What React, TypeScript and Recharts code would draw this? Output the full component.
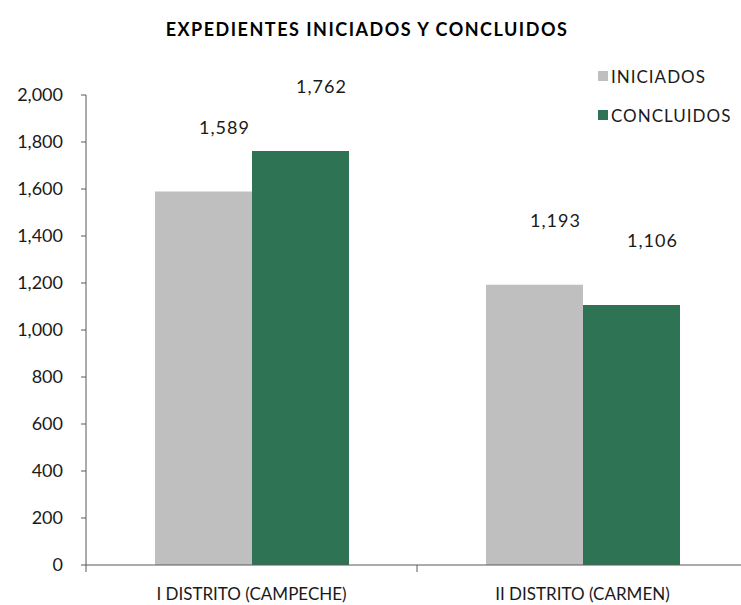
import React from 'react';
import { BarChart, Bar, XAxis, YAxis, LabelList } from 'recharts';

const categories = ['I DISTRITO (CAMPECHE)', 'II DISTRITO (CARMEN)'];
const iniciados = [1589, 1193];
const concluidos = [1762, 1106];
const yTicks = [0, 200, 400, 600, 800, 1000, 1200, 1400, 1600, 1800, 2000];

const series = [
  { key: 'iniciados', name: 'INICIADOS', color: '#BFBFBF' },
  { key: 'concluidos', name: 'CONCLUIDOS', color: '#2E7353' },
];

const data = categories.map((name, i) => ({
  name,
  iniciados: iniciados[i],
  concluidos: concluidos[i],
}));

const FONT = 'Lato, "DejaVu Sans", sans-serif';
const fmt = (v: number) => v.toLocaleString('en-US');

// Excel put the value labels well above the bars, a bit to the right
const ValueLabel = (props: any) => {
  const { x, y, width, value } = props;
  return (
    <text
      x={x + width / 2 + 21}
      y={y - 65}
      textAnchor="middle"
      dominantBaseline="central"
      fontSize={18}
      fontFamily={FONT}
      letterSpacing={1}
      fill="#1a1a1a"
    >
      {fmt(value)}
    </text>
  );
};

const CategoryTick = (props: any) => {
  const { x, y, payload } = props;
  const half = payload.offset || 0;
  return (
    <g>
      <line x1={x - half} x2={x - half} y1={y - 8} y2={y - 1} stroke="#595959" />
      <text
        x={x}
        y={y + 20}
        textAnchor="middle"
        dominantBaseline="central"
        fontSize={17}
        fontFamily={FONT}
        fill="#1a1a1a"
      >
        {payload.value}
      </text>
    </g>
  );
};

export default function App() {
  return (
    <div style={{ position: 'absolute', left: 0, top: 0, width: 741, height: 605, overflow: 'hidden', background: '#fff' }}>
      <div
        style={{
          position: 'absolute',
          left: 0,
          width: 734,
          top: 18,
          textAlign: 'center',
          fontFamily: FONT,
          fontWeight: 'bold',
          fontSize: 18,
          letterSpacing: 1.5,
          color: '#000',
        }}
      >
        EXPEDIENTES INICIADOS Y CONCLUIDOS
      </div>
      <div style={{ position: 'absolute', left: 598, top: 64, fontFamily: FONT, fontSize: 17, letterSpacing: 1, color: '#1a1a1a' }}>
        {series.map((s) => (
          <div key={s.key} style={{ display: 'flex', alignItems: 'center', height: 24, marginBottom: 15 }}>
            <span style={{ display: 'inline-block', width: 10, height: 10, background: s.color, marginRight: 3 }} />
            {s.name}
          </div>
        ))}
      </div>
      <BarChart
        width={760}
        height={605}
        data={data}
        margin={{ top: 95, right: 12, bottom: 0, left: 0 }}
        barCategoryGap={69}
        barGap={0}
      >
        <XAxis
          dataKey="name"
          height={40}
          tickLine={false}
          axisLine={{ stroke: '#595959' }}
          tick={<CategoryTick />}
          interval={0}
        />
        <YAxis
          width={86}
          domain={[0, 2000]}
          ticks={yTicks}
          tickFormatter={fmt}
          tickSize={5}
          tickMargin={18}
          axisLine={{ stroke: '#595959' }}
          tickLine={{ stroke: '#595959' }}
          tick={{ fontSize: 18, fontFamily: FONT, fill: '#1a1a1a' }}
        />
        {series.map((s) => (
          <Bar key={s.key} dataKey={s.key} name={s.name} fill={s.color} isAnimationActive={false}>
            <LabelList dataKey={s.key} content={<ValueLabel />} />
          </Bar>
        ))}
      </BarChart>
    </div>
  );
}
